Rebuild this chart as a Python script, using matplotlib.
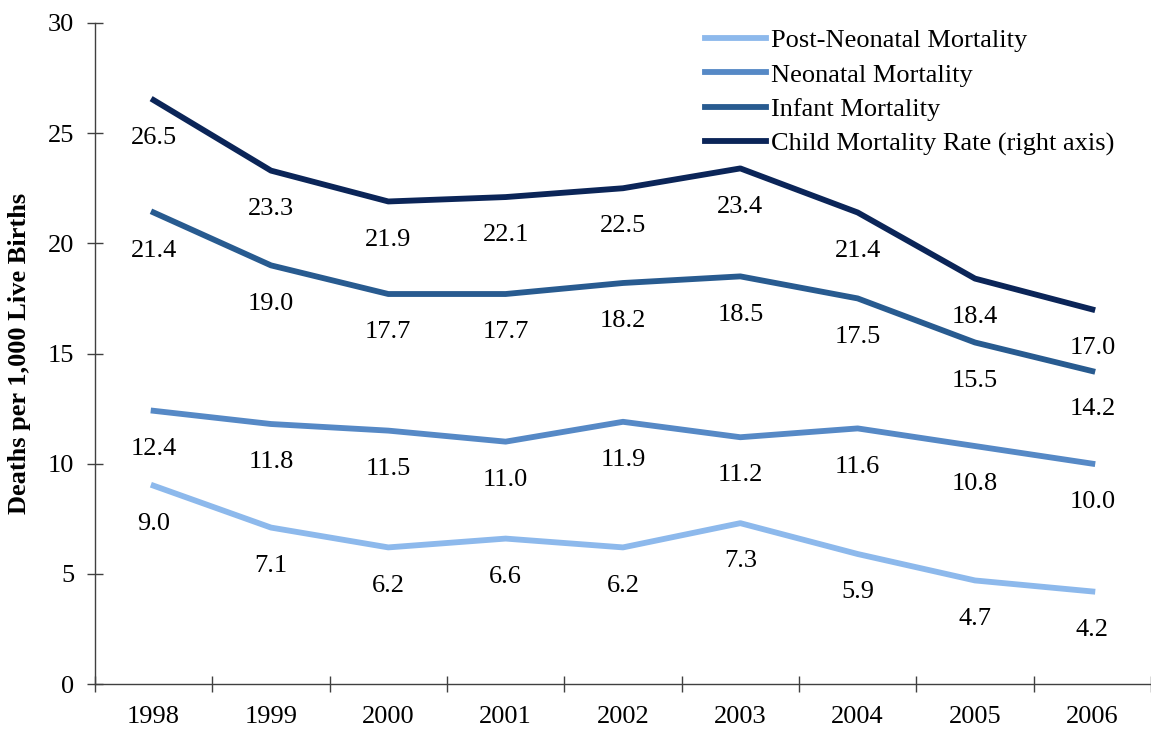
"""
Child mortality rates 1998-2006, line chart with value labels
"""
import matplotlib.pyplot as plt
from matplotlib.ticker import MultipleLocator, FixedLocator

# Data
years = ['1998', '1999', '2000', '2001', '2002', '2003', '2004', '2005', '2006']
postNeonatal = [9.0, 7.1, 6.2, 6.6, 6.2, 7.3, 5.9, 4.7, 4.2]
neonatal = [12.4, 11.8, 11.5, 11.0, 11.9, 11.2, 11.6, 10.8, 10.0]
infant = [21.4, 19.0, 17.7, 17.7, 18.2, 18.5, 17.5, 15.5, 14.2]
child = [26.5, 23.3, 21.9, 22.1, 22.5, 23.4, 21.4, 18.4, 17.0]

seriesNames = ['Post-Neonatal Mortality', 'Neonatal Mortality', 'Infant Mortality',
               'Child Mortality Rate (right axis)']
seriesColors = ['#8DB9EC', '#5689C6', '#285B90', '#0B2558']

plt.rcParams['font.family'] = ['Liberation Serif', 'DejaVu Serif']

fig = plt.figure(figsize=(11.51, 7.37), dpi=100)
ax = fig.add_axes([0.0825, 0.0719, 0.9175, 0.8969])

x = list(range(len(years)))
allSeries = [postNeonatal, neonatal, infant, child]
for values, name, color in zip(allSeries, seriesNames, seriesColors):
    ax.plot(x, values, color=color, lw=4.2, label=name)
    for xi, v in zip(x, values):
        ax.annotate('%.1f' % v, (xi, v), xytext=(0, -27.5), textcoords='offset points',
                    ha='center', va='center', fontsize=19)

ax.set_xlim(-0.5, len(years) - 0.5)
ax.set_ylim(0, 30)
ax.yaxis.set_major_locator(MultipleLocator(5))

# category labels in the middle, tick marks on the boundaries
ax.set_xticks(x)
ax.set_xticklabels(years)
ax.xaxis.set_minor_locator(FixedLocator([i - 0.5 for i in range(len(years) + 1)]))
ax.tick_params(axis='x', which='major', length=0, pad=16, labelsize=19)
ax.tick_params(axis='x', which='minor', direction='inout', length=12, width=1, color='#404040')
ax.tick_params(axis='y', direction='inout', length=12, width=1, color='#404040', pad=9, labelsize=19)

for side in ['top', 'right']:
    ax.spines[side].set_visible(False)
for side in ['left', 'bottom']:
    ax.spines[side].set_color('#404040')
    ax.spines[side].set_linewidth(1)
ax.spines['bottom'].set_bounds(-0.5, len(years) - 0.5)

ax.set_ylabel('Deaths per 1,000 Live Births', fontsize=19, fontweight='bold', labelpad=12)

ax.legend(loc='upper right', bbox_to_anchor=(0.988, 1.027), frameon=False, fontsize=19,
          handlelength=2.3, handletextpad=0.2, labelspacing=0.41)

fig.savefig('out.png', dpi=100)
